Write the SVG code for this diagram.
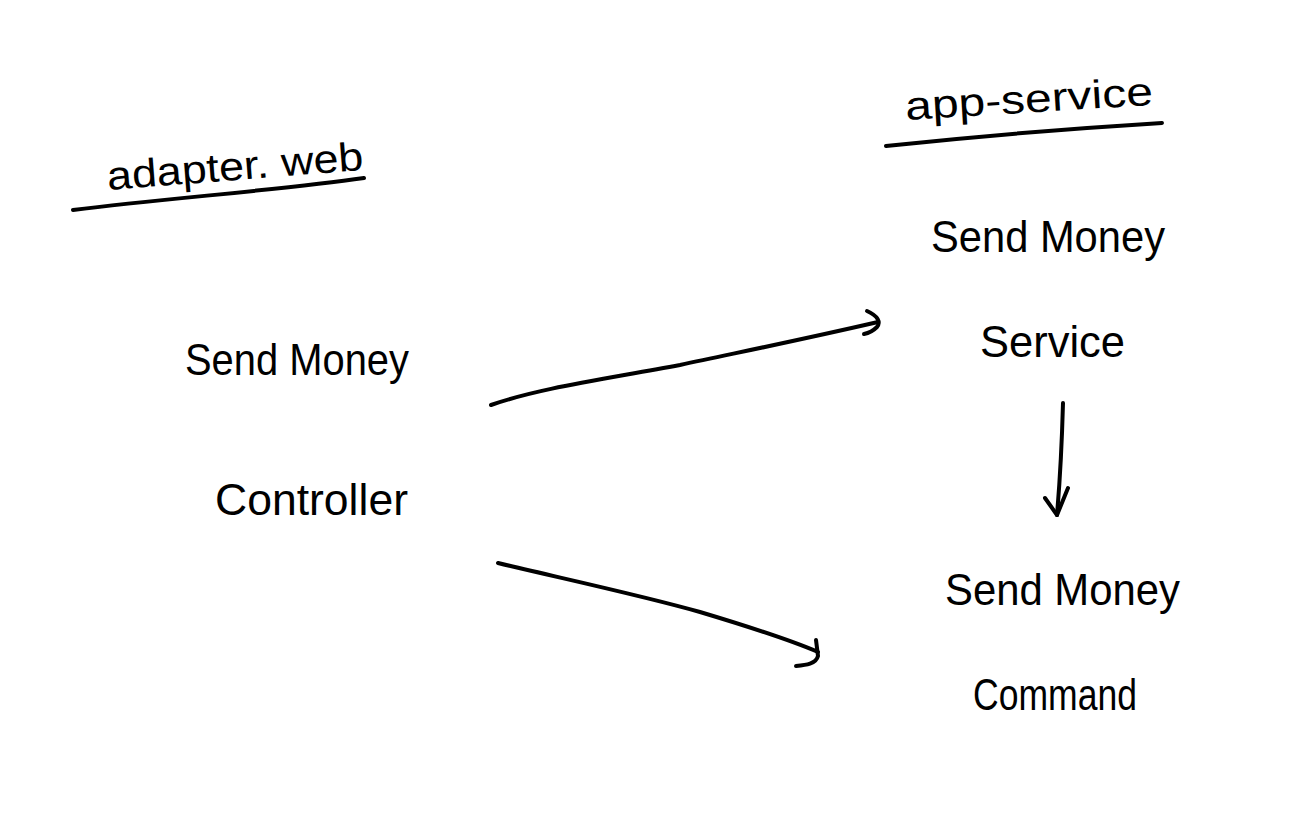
<svg xmlns="http://www.w3.org/2000/svg" width="1306" height="838" viewBox="0 0 1306 838">
<style>
.t{font-family:"Liberation Sans",Arial,sans-serif;fill:#000;font-size:44px}
.h{font-size:40px}
.s{fill:none;stroke:#000;stroke-width:4;stroke-linecap:round;stroke-linejoin:round}
</style>
<rect width="1306" height="838" fill="#fff"/>
<g id="adapter-web">
<text class="t h" x="108" y="190" textLength="257" lengthAdjust="spacingAndGlyphs" transform="rotate(-4.5 108 190)">adapter. web</text>
<path class="s" d="M73 210 C170 198 280 190 364 178"/>
</g>
<g id="app-service">
<text class="t h" x="906" y="120" textLength="248" lengthAdjust="spacingAndGlyphs" transform="rotate(-3.5 906 120)">app-service</text>
<path class="s" d="M886 146 C980 136 1080 128 1162 123"/>
</g>
<g id="send-money-controller">
<text class="t" x="185" y="375" textLength="224" lengthAdjust="spacingAndGlyphs">Send Money</text>
<text class="t" x="215" y="515" textLength="193" lengthAdjust="spacingAndGlyphs">Controller</text>
</g>
<g id="send-money-service">
<text class="t" x="931" y="252" textLength="234" lengthAdjust="spacingAndGlyphs">Send Money</text>
<text class="t" x="980" y="357" textLength="145" lengthAdjust="spacingAndGlyphs">Service</text>
</g>
<g id="send-money-command">
<text class="t" x="945" y="605" textLength="235" lengthAdjust="spacingAndGlyphs">Send Money</text>
<text class="t" x="973" y="710" textLength="164" lengthAdjust="spacingAndGlyphs">Command</text>
</g>
<g id="connectors">
<path class="s" d="M491 405 C540 388 600 380 680 365 C750 350 800 340 878 322"/>
<path class="s" d="M867 311 C878 316 881 322 877 327 C874 330 869 333 864 334"/>
<path class="s" d="M498 563 C560 578 640 595 700 612 C750 627 790 640 818 652"/>
<path class="s" d="M816 640 L818 656 C816 664 806 665 796 666"/>
<path class="s" d="M1063 403 C1062 440 1060 480 1057 515"/>
<path class="s" d="M1045 498 L1057 515 L1068 488"/>
</g>
</svg>
